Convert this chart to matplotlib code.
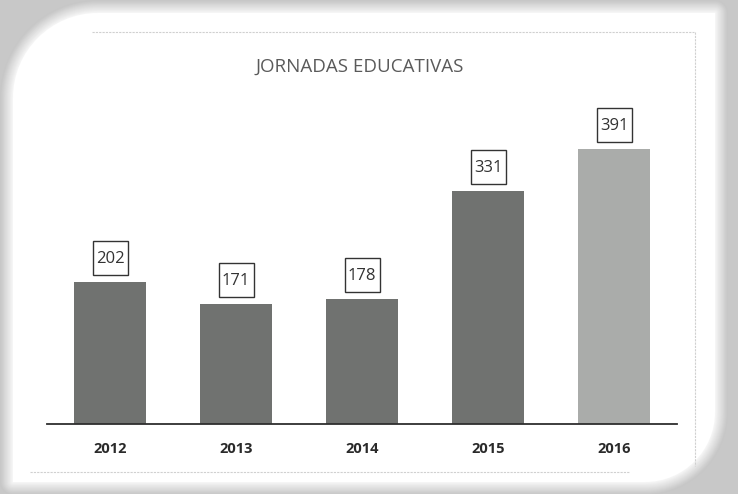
import matplotlib
matplotlib.use("Agg")
import matplotlib.pyplot as plt
from matplotlib.path import Path
from matplotlib.patches import PathPatch, Rectangle
from matplotlib.transforms import IdentityTransform, ScaledTranslation
import numpy as np

# ---- data ----
years = ["2012", "2013", "2014", "2015", "2016"]
values = [202, 171, 178, 331, 391]
bar_colors = ["#707270", "#707270", "#707270", "#707270", "#aaacaa"]
title = "JORNADAS EDUCATIVAS"

W, H = 738, 494
fig = plt.figure(figsize=(W / 100, H / 100), dpi=100)
fig.patch.set_facecolor("#c8c8c8")

# ---- background frame (pixel coordinates, y down) ----
bg = fig.add_axes([0, 0, 1, 1])
bg.set_xlim(0, W)
bg.set_ylim(H, 0)
bg.axis("off")

L, R, T, B = 13, 715, 13, 482
r1, r2 = 85, 70
k = 0.5523
verts = [
    (L + r1, T), (R, T), (R, B - r2),
    (R, B - r2 * (1 - k)), (R - r2 * (1 - k), B), (R - r2, B),
    (L, B), (L, T + r1),
    (L, T + r1 * (1 - k)), (L + r1 * (1 - k), T), (L + r1, T),
    (L + r1, T),
]
codes = [Path.MOVETO, Path.LINETO, Path.LINETO,
         Path.CURVE4, Path.CURVE4, Path.CURVE4,
         Path.LINETO, Path.LINETO,
         Path.CURVE4, Path.CURVE4, Path.CURVE4,
         Path.CLOSEPOLY]
frame_path = Path(verts, codes)

c_out = np.array([0.78, 0.78, 0.78])
c_in = np.array([0.97, 0.97, 0.97])
n = 14
for i in range(n):
    t = i / (n - 1)
    lw = 18 * (1 - t) + 0.5
    col = c_out * (1 - t) + c_in * t
    bg.add_patch(PathPatch(frame_path, facecolor="none", edgecolor=tuple(col),
                           lw=lw, joinstyle="round"))
bg.add_patch(PathPatch(frame_path, facecolor="white", edgecolor="none"))

# faint dotted inner frame
fc = "#d0d0d0"
bg.plot([92, 694], [32, 32], color=fc, lw=0.8, ls=(0, (2, 1)))
bg.plot([695, 695], [32, 466], color=fc, lw=0.8, ls=(0, (2, 1)))
bg.plot([30, 630], [472, 472], color=fc, lw=0.8, ls=(0, (2, 1)))

# title
bg.text(360, 67, title, ha="center", va="center", fontsize=13.5,
        color="#5a5a5a", family=["Open Sans", "DejaVu Sans"])

# ---- chart axes ----
ax_left, ax_right, ax_bottom_px = 47, 677, 424
ymax = 500
px_per_unit = 275 / 391
ax_h = ymax * px_per_unit
ax = fig.add_axes([ax_left / W, (H - ax_bottom_px) / H,
                   (ax_right - ax_left) / W, ax_h / H])
ax.set_facecolor("none")
x = np.arange(len(years))
ax.bar(x, values, width=0.5635, color=bar_colors, zorder=2)
ax.set_xlim(-0.5, len(years) - 0.5)
ax.set_ylim(0, ymax)
for s in ["top", "left", "right"]:
    ax.spines[s].set_visible(False)
ax.spines["bottom"].set_color("#2e2e2e")
ax.spines["bottom"].set_linewidth(1.3)
ax.set_yticks([])
ax.set_xticks(x)
ax.set_xticklabels(years, fontsize=10.5, fontweight="bold", color="#2a2a2a",
                   family=["Open Sans", "DejaVu Sans"])
ax.tick_params(axis="x", length=0, pad=13)

# value labels in boxes (box size in pixels, placed above each bar)
box_w, box_h, gap = 35, 34, 7
for xi, v in zip(x, values):
    tr = IdentityTransform() + ScaledTranslation(xi, v, ax.transData)
    ax.add_patch(Rectangle((-box_w / 2, gap), box_w, box_h, transform=tr,
                           facecolor="white", edgecolor="#333333", lw=1.0,
                           clip_on=False, zorder=3))
    ax.annotate(str(v), (xi, v), xytext=(0, gap + box_h / 2 - 1),
                textcoords="offset pixels", ha="center", va="center",
                fontsize=12, color="#333333", zorder=4,
                family=["Open Sans", "DejaVu Sans"])

fig.savefig("out.png", dpi=100, facecolor=fig.get_facecolor())
